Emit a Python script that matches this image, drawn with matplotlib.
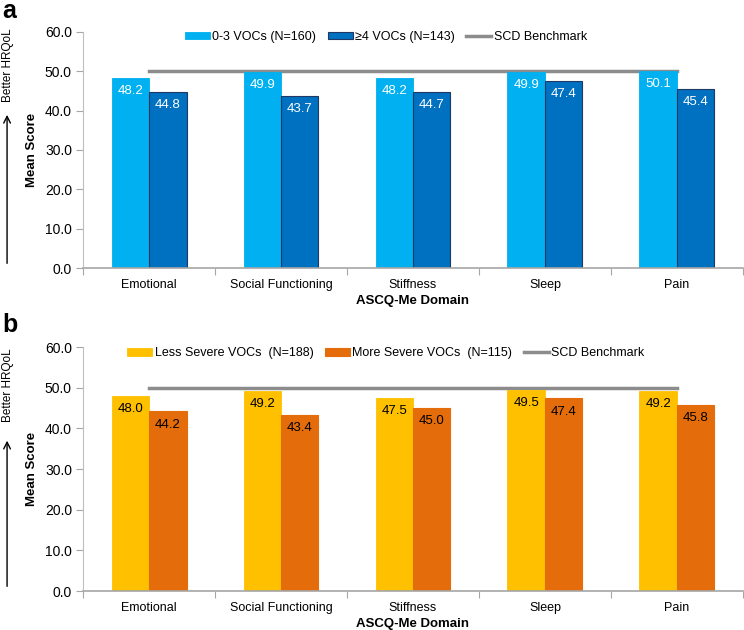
import matplotlib
matplotlib.use("Agg")
import matplotlib.pyplot as plt
import numpy as np

plt.rcParams['font.family'] = ['Liberation Sans', 'DejaVu Sans']

categories = ["Emotional", "Social Functioning", "Stiffness", "Sleep", "Pain"]
a_low = [48.2, 49.9, 48.2, 49.9, 50.1]
a_high = [44.8, 43.7, 44.7, 47.4, 45.4]
b_less = [48.0, 49.2, 47.5, 49.5, 49.2]
b_more = [44.2, 43.4, 45.0, 47.4, 45.8]
benchmark = 50.0
yticks = [0, 10, 20, 30, 40, 50, 60]

fig = plt.figure(figsize=(7.44, 6.3), dpi=100)

def panel(rect, s1, s2, lab1, lab2, c1, c2, e2, txtcol, letter, letter_y,
          txt_frac, arrow_frac, leg_y):
    ax = fig.add_axes(rect)
    x = np.arange(len(categories))
    w = 0.284
    b1 = ax.bar(x - w / 2, s1, w, color=c1, edgecolor=c1, linewidth=0.6, label=lab1, zorder=2)
    b2 = ax.bar(x + w / 2, s2, w, color=c2, edgecolor=e2, linewidth=0.8, label=lab2, zorder=2)
    ln, = ax.plot([x[0], x[-1]], [benchmark, benchmark], color='#8C8C8C', lw=2.5,
                  label='SCD Benchmark', zorder=1)
    for bars, vals in ((b1, s1), (b2, s2)):
        for r, v in zip(bars, vals):
            ax.text(r.get_x() + r.get_width() / 2, v - 1.8, f"{v:.1f}", ha='center',
                    va='top', color=txtcol, fontsize=9.5)
    ax.set_xlim(-0.5, len(categories) - 0.5)
    ax.set_ylim(0, 60)
    ax.set_yticks(yticks)
    ax.set_yticklabels([f"{t:.1f}" for t in yticks], fontsize=10)
    ax.set_xticks(np.arange(-0.5, len(categories), 1.0), minor=False)
    ax.set_xticklabels([])
    ax.set_xticks(x, minor=True)
    ax.set_xticklabels(categories, minor=True, fontsize=9)
    ax.tick_params(axis='x', which='minor', length=0, pad=8)
    ax.tick_params(axis='x', which='major', length=5, color='#A6A6A6', direction='out')
    ax.tick_params(axis='y', length=5, color='#A6A6A6', direction='out', pad=3)
    for s in ('top', 'right'):
        ax.spines[s].set_visible(False)
    ax.spines['left'].set_color('#BFBFBF')
    ax.spines['bottom'].set_color('#A6A6A6')
    ax.spines['bottom'].set_linewidth(1.2)
    ax.set_xlabel("ASCQ-Me Domain", fontsize=9.5, fontweight='bold')
    ax.xaxis.set_label_coords(0.5, -33 / (rect[3] * 630), transform=ax.transAxes)
    ax.xaxis.label.set_va('center')
    ax.set_ylabel("Mean Score", fontsize=9.5, fontweight='bold', va='center')
    ax.yaxis.set_label_coords(-51 / 660, 0.5)
    ax.legend(handles=[b1, b2, ln], loc='upper center', bbox_to_anchor=(0.459, leg_y),
              ncol=3, frameon=False, fontsize=9, handlelength=2.0, handleheight=0.5,
              columnspacing=0.9, handletextpad=0.2)
    y0 = rect[1]
    fig.patches.append(matplotlib.patches.FancyArrowPatch(
        (0.0095, y0 + 0.003), (0.0095, y0 + rect[3] * arrow_frac), transform=fig.transFigure,
        arrowstyle='->', mutation_scale=12, color='black', lw=1))
    fig.text(0.011, y0 + rect[3] * txt_frac, "Better HRQoL", rotation=90, ha='center',
             va='center', fontsize=8.5)
    fig.text(0.003, letter_y, letter, fontsize=18, fontweight='bold', ha='left', va='center')
    return ax

panel([0.1116, 0.5746, 0.887, 0.375], a_low, a_high, "0-3 VOCs (N=160)", "\u22654 VOCs (N=143)",
      '#00B0F0', '#0070C0', '#1F3864', 'white', 'a', 0.982, 0.86, 0.66, 1.05)
panel([0.1116, 0.0619, 0.887, 0.387], b_less, b_more, "Less Severe VOCs  (N=188)",
      "More Severe VOCs  (N=115)", '#FFC000', '#E46C0A', '#E46C0A', 'black', 'b', 0.484,
      0.845, 0.628, 1.045)

fig.savefig("out.png", dpi=100)
